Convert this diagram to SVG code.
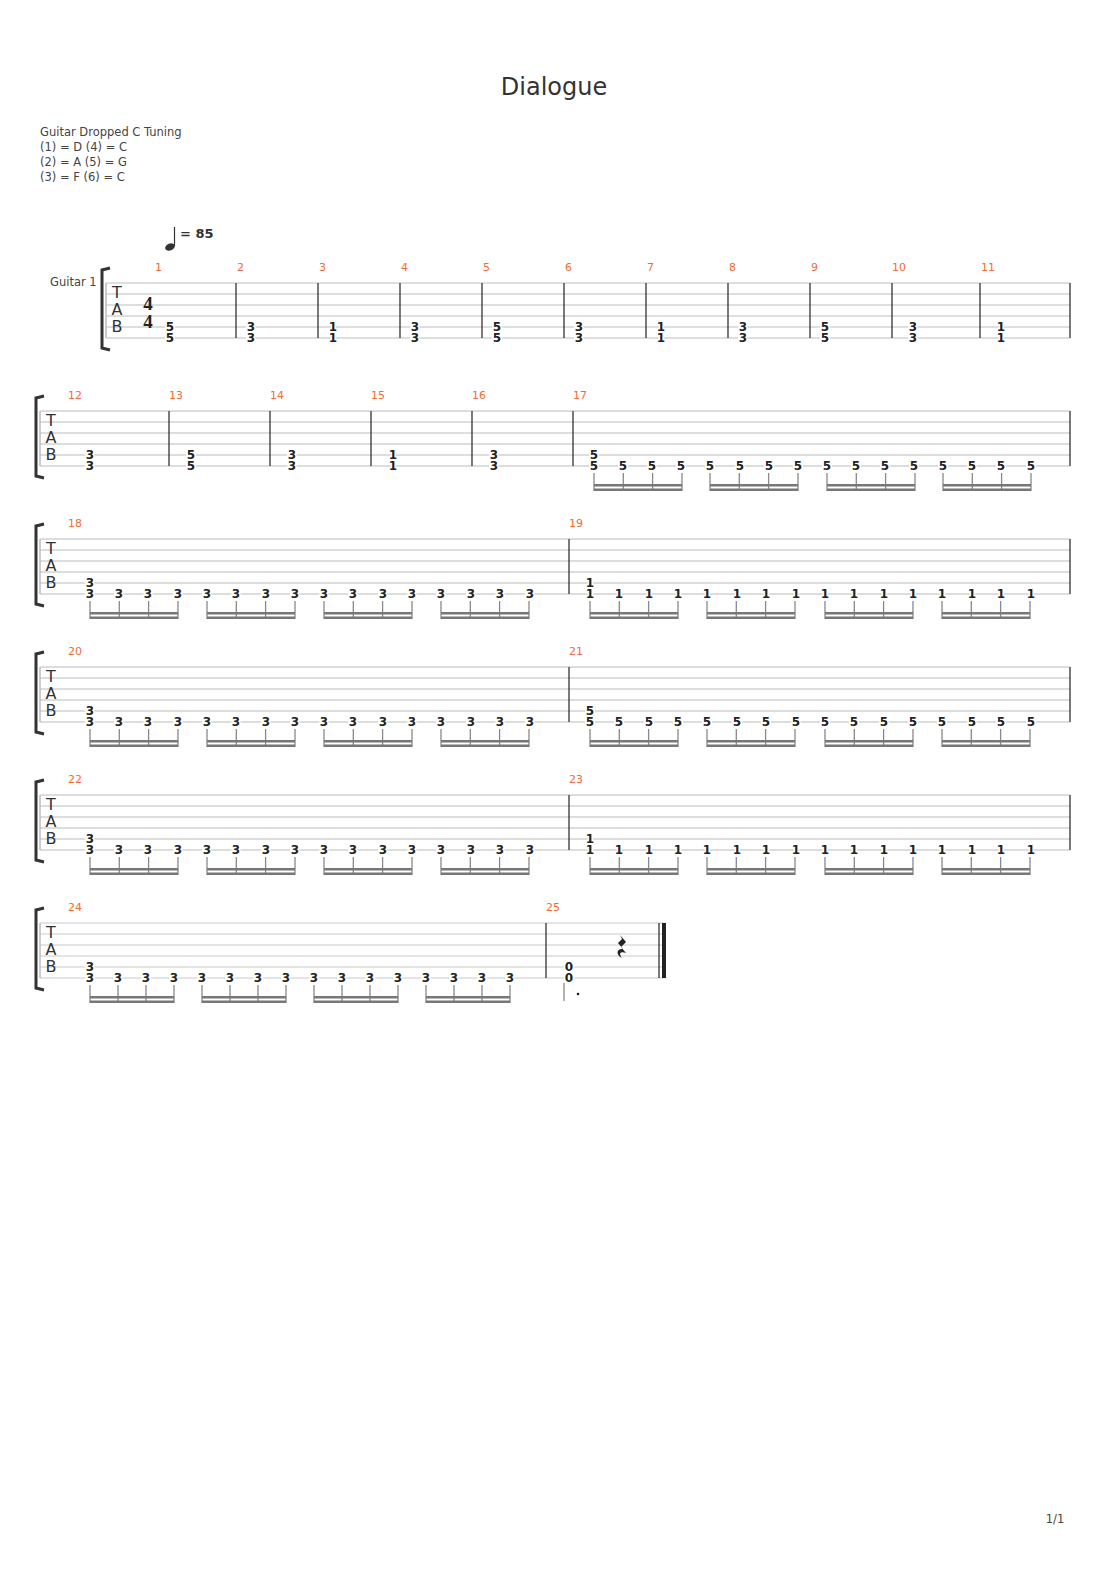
<svg xmlns="http://www.w3.org/2000/svg" xmlns:xlink="http://www.w3.org/1999/xlink" width="1110" height="1570" viewBox="0 0 1110 1570">
<style>
.t{font-family:"DejaVu Sans",sans-serif;fill:#333}
.h{font-family:"DejaVu Sans",sans-serif;font-size:11.5px;fill:#444}
.m{font-family:"DejaVu Sans",sans-serif;font-size:11px;fill:#f26b35}
.n{font-family:"DejaVu Sans",sans-serif;font-weight:bold;font-size:12px;text-anchor:middle;fill:#222;stroke:#fff;stroke-width:3;paint-order:stroke}
.tab{font-family:"DejaVu Sans",sans-serif;font-size:16px;fill:#333;text-anchor:middle}
.sl{stroke:#bbb;stroke-width:1}
.bar{stroke:#222;stroke-width:1.2}
.st{stroke:#888;stroke-width:1.3}
.bm{fill:#777}
.br{fill:none;stroke:#333;stroke-width:3}
</style>
<defs>
<g id="lines6">
<line class="sl" x1="0" y1="0" x2="1030" y2="0"/><line class="sl" x1="0" y1="11" x2="1030" y2="11"/><line class="sl" x1="0" y1="22" x2="1030" y2="22"/><line class="sl" x1="0" y1="33" x2="1030" y2="33"/><line class="sl" x1="0" y1="44" x2="1030" y2="44"/><line class="sl" x1="0" y1="55" x2="1030" y2="55"/>
</g>
<g id="b29"><line class="st" x1="0" y1="62" x2="0" y2="80"/><line class="st" x1="29.3" y1="62" x2="29.3" y2="80"/><line class="st" x1="58.6" y1="62" x2="58.6" y2="80"/><line class="st" x1="88" y1="62" x2="88" y2="80"/><rect class="bm" x="0" y="73" width="88" height="2.5"/><rect class="bm" x="0" y="77.5" width="88" height="2.5"/></g>
<g id="b28"><line class="st" x1="0" y1="62" x2="0" y2="80"/><line class="st" x1="28" y1="62" x2="28" y2="80"/><line class="st" x1="56" y1="62" x2="56" y2="80"/><line class="st" x1="84" y1="62" x2="84" y2="80"/><rect class="bm" x="0" y="73" width="84" height="2.5"/><rect class="bm" x="0" y="77.5" width="84" height="2.5"/></g>
</defs>
<rect width="1110" height="1570" fill="#fff"/>
<g id="header">
<text class="t" x="554" y="95" font-size="24" text-anchor="middle">Dialogue</text>
<text class="h" x="40" y="136">Guitar Dropped C Tuning</text>
<text class="h" x="40" y="151">(1) = D (4) = C</text>
<text class="h" x="40" y="166">(2) = A (5) = G</text>
<text class="h" x="40" y="181">(3) = F  (6) = C</text>
<ellipse cx="170" cy="247" rx="5" ry="3.5" fill="#333" transform="rotate(-20 170 247)"/>
<line x1="174.5" y1="227" x2="174.5" y2="246" stroke="#333" stroke-width="1.2"/>
<text class="t" x="180" y="238" font-size="13" font-weight="bold">= 85</text>
<text class="h" x="50" y="286">Guitar 1</text>
<text class="h" x="1055" y="1523" text-anchor="middle">1/1</text>
</g>

<g id="system1">
<path class="br" d="M110,268 L102,270 L102,348 L110,350"/>
<line x1="106" y1="283" x2="106" y2="338" stroke="#999"/>
<use href="#lines6" transform="translate(106,283) scale(0.936,1)"/>
<text class="tab" x="117" y="298">T</text><text class="tab" x="117" y="315">A</text><text class="tab" x="117" y="332">B</text>
<text x="148" y="310" font-family="Liberation Serif,serif" font-weight="bold" font-size="19" text-anchor="middle" fill="#222">4</text>
<text x="148" y="328" font-family="Liberation Serif,serif" font-weight="bold" font-size="19" text-anchor="middle" fill="#222">4</text>
<g class="bar"><line x1="236" y1="283" x2="236" y2="338"/><line x1="318" y1="283" x2="318" y2="338"/><line x1="400" y1="283" x2="400" y2="338"/><line x1="482" y1="283" x2="482" y2="338"/><line x1="564" y1="283" x2="564" y2="338"/><line x1="646" y1="283" x2="646" y2="338"/><line x1="728" y1="283" x2="728" y2="338"/><line x1="810" y1="283" x2="810" y2="338"/><line x1="892" y1="283" x2="892" y2="338"/><line x1="980" y1="283" x2="980" y2="338"/><line x1="1070" y1="283" x2="1070" y2="338"/></g>
<g class="m"><text x="155" y="271">1</text><text x="237" y="271">2</text><text x="319" y="271">3</text><text x="401" y="271">4</text><text x="483" y="271">5</text><text x="565" y="271">6</text><text x="647" y="271">7</text><text x="729" y="271">8</text><text x="811" y="271">9</text><text x="892" y="271">10</text><text x="981" y="271">11</text></g>
<g class="n">
<text x="170" y="331">5</text><text x="170" y="342">5</text>
<text x="251" y="331">3</text><text x="251" y="342">3</text>
<text x="333" y="331">1</text><text x="333" y="342">1</text>
<text x="415" y="331">3</text><text x="415" y="342">3</text>
<text x="497" y="331">5</text><text x="497" y="342">5</text>
<text x="579" y="331">3</text><text x="579" y="342">3</text>
<text x="661" y="331">1</text><text x="661" y="342">1</text>
<text x="743" y="331">3</text><text x="743" y="342">3</text>
<text x="825" y="331">5</text><text x="825" y="342">5</text>
<text x="913" y="331">3</text><text x="913" y="342">3</text>
<text x="1001" y="331">1</text><text x="1001" y="342">1</text>
</g>
</g>

<g id="system2">
<path class="br" d="M44,396 L36,398 L36,476 L44,478"/>
<line x1="40" y1="411" x2="40" y2="466" stroke="#999"/>
<use href="#lines6" transform="translate(40,411)"/>
<text class="tab" x="51" y="426">T</text><text class="tab" x="51" y="443">A</text><text class="tab" x="51" y="460">B</text>
<g class="bar"><line x1="169" y1="411" x2="169" y2="466"/><line x1="270" y1="411" x2="270" y2="466"/><line x1="371" y1="411" x2="371" y2="466"/><line x1="472" y1="411" x2="472" y2="466"/><line x1="573" y1="411" x2="573" y2="466"/><line x1="1070" y1="411" x2="1070" y2="466"/></g>
<g class="m"><text x="68" y="399">12</text><text x="169" y="399">13</text><text x="270" y="399">14</text><text x="371" y="399">15</text><text x="472" y="399">16</text><text x="573" y="399">17</text></g>
<g class="n">
<text x="90" y="459">3</text><text x="90" y="470">3</text>
<text x="191" y="459">5</text><text x="191" y="470">5</text>
<text x="292" y="459">3</text><text x="292" y="470">3</text>
<text x="393" y="459">1</text><text x="393" y="470">1</text>
<text x="494" y="459">3</text><text x="494" y="470">3</text>
<text x="594" y="459">5</text><text x="594" y="470">5</text><text x="623" y="470">5</text><text x="652" y="470">5</text><text x="681" y="470">5</text><text x="710" y="470">5</text><text x="740" y="470">5</text><text x="769" y="470">5</text><text x="798" y="470">5</text><text x="827" y="470">5</text><text x="856" y="470">5</text><text x="885" y="470">5</text><text x="914" y="470">5</text><text x="943" y="470">5</text><text x="972" y="470">5</text><text x="1001" y="470">5</text><text x="1031" y="470">5</text>
</g>
<use href="#b29" transform="translate(594,411)"/><use href="#b29" transform="translate(710,411)"/><use href="#b29" transform="translate(827,411)"/><use href="#b29" transform="translate(943,411)"/>
</g>

<g id="system3">
<path class="br" d="M44,524 L36,526 L36,604 L44,606"/>
<line x1="40" y1="539" x2="40" y2="594" stroke="#999"/>
<use href="#lines6" transform="translate(40,539)"/>
<text class="tab" x="51" y="554">T</text><text class="tab" x="51" y="571">A</text><text class="tab" x="51" y="588">B</text>
<g class="bar"><line x1="569" y1="539" x2="569" y2="594"/><line x1="1070" y1="539" x2="1070" y2="594"/></g>
<g class="m"><text x="68" y="527">18</text><text x="569" y="527">19</text></g>
<g class="n">
<text x="90" y="587">3</text><text x="90" y="598">3</text><text x="119" y="598">3</text><text x="148" y="598">3</text><text x="178" y="598">3</text><text x="207" y="598">3</text><text x="236" y="598">3</text><text x="266" y="598">3</text><text x="295" y="598">3</text><text x="324" y="598">3</text><text x="353" y="598">3</text><text x="383" y="598">3</text><text x="412" y="598">3</text><text x="441" y="598">3</text><text x="471" y="598">3</text><text x="500" y="598">3</text><text x="530" y="598">3</text>
<text x="590" y="587">1</text><text x="590" y="598">1</text><text x="619" y="598">1</text><text x="649" y="598">1</text><text x="678" y="598">1</text><text x="707" y="598">1</text><text x="737" y="598">1</text><text x="766" y="598">1</text><text x="796" y="598">1</text><text x="825" y="598">1</text><text x="854" y="598">1</text><text x="884" y="598">1</text><text x="913" y="598">1</text><text x="942" y="598">1</text><text x="972" y="598">1</text><text x="1001" y="598">1</text><text x="1031" y="598">1</text>
</g>
<use href="#b29" transform="translate(90,539)"/><use href="#b29" transform="translate(207,539)"/><use href="#b29" transform="translate(324,539)"/><use href="#b29" transform="translate(441,539)"/>
<use href="#b29" transform="translate(590,539)"/><use href="#b29" transform="translate(707,539)"/><use href="#b29" transform="translate(825,539)"/><use href="#b29" transform="translate(942,539)"/>
</g>

<g id="system4">
<path class="br" d="M44,652 L36,654 L36,732 L44,734"/>
<line x1="40" y1="667" x2="40" y2="722" stroke="#999"/>
<use href="#lines6" transform="translate(40,667)"/>
<text class="tab" x="51" y="682">T</text><text class="tab" x="51" y="699">A</text><text class="tab" x="51" y="716">B</text>
<g class="bar"><line x1="569" y1="667" x2="569" y2="722"/><line x1="1070" y1="667" x2="1070" y2="722"/></g>
<g class="m"><text x="68" y="655">20</text><text x="569" y="655">21</text></g>
<g class="n">
<text x="90" y="715">3</text><text x="90" y="726">3</text><text x="119" y="726">3</text><text x="148" y="726">3</text><text x="178" y="726">3</text><text x="207" y="726">3</text><text x="236" y="726">3</text><text x="266" y="726">3</text><text x="295" y="726">3</text><text x="324" y="726">3</text><text x="353" y="726">3</text><text x="383" y="726">3</text><text x="412" y="726">3</text><text x="441" y="726">3</text><text x="471" y="726">3</text><text x="500" y="726">3</text><text x="530" y="726">3</text>
<text x="590" y="715">5</text><text x="590" y="726">5</text><text x="619" y="726">5</text><text x="649" y="726">5</text><text x="678" y="726">5</text><text x="707" y="726">5</text><text x="737" y="726">5</text><text x="766" y="726">5</text><text x="796" y="726">5</text><text x="825" y="726">5</text><text x="854" y="726">5</text><text x="884" y="726">5</text><text x="913" y="726">5</text><text x="942" y="726">5</text><text x="972" y="726">5</text><text x="1001" y="726">5</text><text x="1031" y="726">5</text>
</g>
<use href="#b29" transform="translate(90,667)"/><use href="#b29" transform="translate(207,667)"/><use href="#b29" transform="translate(324,667)"/><use href="#b29" transform="translate(441,667)"/>
<use href="#b29" transform="translate(590,667)"/><use href="#b29" transform="translate(707,667)"/><use href="#b29" transform="translate(825,667)"/><use href="#b29" transform="translate(942,667)"/>
</g>

<g id="system5">
<path class="br" d="M44,780 L36,782 L36,860 L44,862"/>
<line x1="40" y1="795" x2="40" y2="850" stroke="#999"/>
<use href="#lines6" transform="translate(40,795)"/>
<text class="tab" x="51" y="810">T</text><text class="tab" x="51" y="827">A</text><text class="tab" x="51" y="844">B</text>
<g class="bar"><line x1="569" y1="795" x2="569" y2="850"/><line x1="1070" y1="795" x2="1070" y2="850"/></g>
<g class="m"><text x="68" y="783">22</text><text x="569" y="783">23</text></g>
<g class="n">
<text x="90" y="843">3</text><text x="90" y="854">3</text><text x="119" y="854">3</text><text x="148" y="854">3</text><text x="178" y="854">3</text><text x="207" y="854">3</text><text x="236" y="854">3</text><text x="266" y="854">3</text><text x="295" y="854">3</text><text x="324" y="854">3</text><text x="353" y="854">3</text><text x="383" y="854">3</text><text x="412" y="854">3</text><text x="441" y="854">3</text><text x="471" y="854">3</text><text x="500" y="854">3</text><text x="530" y="854">3</text>
<text x="590" y="843">1</text><text x="590" y="854">1</text><text x="619" y="854">1</text><text x="649" y="854">1</text><text x="678" y="854">1</text><text x="707" y="854">1</text><text x="737" y="854">1</text><text x="766" y="854">1</text><text x="796" y="854">1</text><text x="825" y="854">1</text><text x="854" y="854">1</text><text x="884" y="854">1</text><text x="913" y="854">1</text><text x="942" y="854">1</text><text x="972" y="854">1</text><text x="1001" y="854">1</text><text x="1031" y="854">1</text>
</g>
<use href="#b29" transform="translate(90,795)"/><use href="#b29" transform="translate(207,795)"/><use href="#b29" transform="translate(324,795)"/><use href="#b29" transform="translate(441,795)"/>
<use href="#b29" transform="translate(590,795)"/><use href="#b29" transform="translate(707,795)"/><use href="#b29" transform="translate(825,795)"/><use href="#b29" transform="translate(942,795)"/>
</g>

<g id="system6">
<path class="br" d="M44,908 L36,910 L36,988 L44,990"/>
<line x1="40" y1="923" x2="40" y2="978" stroke="#999"/>
<use href="#lines6" transform="translate(40,923) scale(0.607,1)"/>
<text class="tab" x="51" y="938">T</text><text class="tab" x="51" y="955">A</text><text class="tab" x="51" y="972">B</text>
<g class="bar"><line x1="546" y1="923" x2="546" y2="978"/><line x1="659" y1="923" x2="659" y2="978"/></g>
<rect x="662" y="923" width="4" height="55" fill="#222"/>
<g class="m"><text x="68" y="911">24</text><text x="546" y="911">25</text></g>
<g class="n">
<text x="90" y="971">3</text><text x="90" y="982">3</text><text x="118" y="982">3</text><text x="146" y="982">3</text><text x="174" y="982">3</text><text x="202" y="982">3</text><text x="230" y="982">3</text><text x="258" y="982">3</text><text x="286" y="982">3</text><text x="314" y="982">3</text><text x="342" y="982">3</text><text x="370" y="982">3</text><text x="398" y="982">3</text><text x="426" y="982">3</text><text x="454" y="982">3</text><text x="482" y="982">3</text><text x="510" y="982">3</text>
<text x="569" y="971">0</text><text x="569" y="982">0</text>
</g>
<use href="#b28" transform="translate(90,923)"/><use href="#b28" transform="translate(202,923)"/><use href="#b28" transform="translate(314,923)"/><use href="#b28" transform="translate(426,923)"/>
<line class="st" x1="564" y1="983" x2="564" y2="1001"/>
<circle cx="578" cy="994" r="1.3" fill="#222"/>
<path d="M620,935 L626,942 L621,947 L626,953 C621,951 618,953 622,958 C615,954 617,948 623,949 L618,943 L622,939 Z" fill="#222"/>
</g>
</svg>
